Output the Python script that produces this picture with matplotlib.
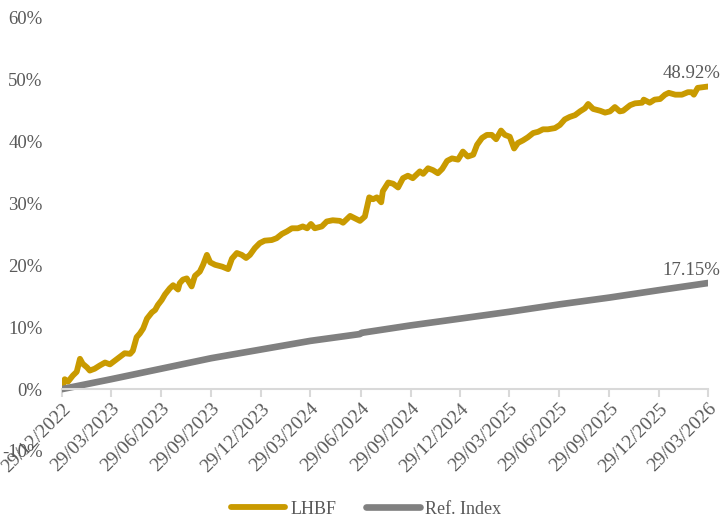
import pandas as pd
import matplotlib.pyplot as plt
import matplotlib.dates as mdates
from matplotlib.ticker import FuncFormatter

plt.rcParams['font.family'] = ['Liberation Serif', 'DejaVu Serif']

# LHBF cumulative performance (%)
lhbf_dates = [
    "2022-12-29", "2023-01-03", "2023-01-09", "2023-01-18", "2023-01-25", "2023-01-31",
    "2023-02-05", "2023-02-13", "2023-02-18", "2023-02-27", "2023-03-08", "2023-03-18",
    "2023-03-27", "2023-04-05", "2023-04-14", "2023-04-23", "2023-05-03", "2023-05-08",
    "2023-05-15", "2023-05-21", "2023-05-27", "2023-06-03", "2023-06-12", "2023-06-18",
    "2023-06-23", "2023-06-30", "2023-07-06", "2023-07-15", "2023-07-21", "2023-07-30",
    "2023-08-02", "2023-08-08", "2023-08-15", "2023-08-24", "2023-08-30", "2023-09-08",
    "2023-09-14", "2023-09-21", "2023-09-27", "2023-10-06", "2023-10-19", "2023-10-30",
    "2023-11-06", "2023-11-15", "2023-11-24", "2023-12-02", "2023-12-09", "2023-12-18",
    "2023-12-27", "2024-01-05", "2024-01-18", "2024-01-27", "2024-02-06", "2024-02-15",
    "2024-02-24", "2024-03-06", "2024-03-15", "2024-03-23", "2024-03-30", "2024-04-06",
    "2024-04-19", "2024-04-28", "2024-05-09", "2024-05-22", "2024-05-28", "2024-06-10",
    "2024-06-19", "2024-06-28", "2024-07-07", "2024-07-15", "2024-07-22", "2024-07-29",
    "2024-08-06", "2024-08-09", "2024-08-19", "2024-08-28", "2024-09-06", "2024-09-15",
    "2024-09-24", "2024-10-03", "2024-10-16", "2024-10-22", "2024-10-31", "2024-11-09",
    "2024-11-18", "2024-11-26", "2024-12-05", "2024-12-14", "2024-12-25", "2025-01-03",
    "2025-01-12", "2025-01-22", "2025-01-29", "2025-02-07", "2025-02-16", "2025-02-25",
    "2025-03-05", "2025-03-14", "2025-03-21", "2025-03-30", "2025-04-07", "2025-04-14",
    "2025-04-23", "2025-05-02", "2025-05-12", "2025-05-21", "2025-05-30", "2025-06-08",
    "2025-06-21", "2025-06-30", "2025-07-09", "2025-07-18", "2025-07-28", "2025-08-06",
    "2025-08-15", "2025-08-21", "2025-08-30", "2025-09-12", "2025-09-21", "2025-09-30",
    "2025-10-09", "2025-10-18", "2025-10-24", "2025-11-06", "2025-11-15", "2025-11-28",
    "2025-12-01", "2025-12-12", "2025-12-21", "2025-12-31", "2026-01-09", "2026-01-16",
    "2026-01-28", "2026-02-09", "2026-02-20", "2026-02-27", "2026-03-03", "2026-03-10",
    "2026-03-19", "2026-03-29",
]
lhbf_values = [
    0.0, 1.6, 1.2, 2.2, 2.8, 4.9,
    4.1, 3.5, 3.0, 3.3, 3.8, 4.3,
    4.0, 4.6, 5.2, 5.8, 5.7, 6.2,
    8.4, 9.0, 9.8, 11.4, 12.4, 12.8,
    13.6, 14.4, 15.3, 16.3, 16.8, 16.1,
    17.1, 17.7, 17.9, 16.6, 18.3, 19.0,
    20.1, 21.7, 20.5, 20.1, 19.8, 19.4,
    21.1, 22.0, 21.7, 21.2, 21.7, 22.8,
    23.6, 24.0, 24.1, 24.4, 25.1, 25.5,
    26.0, 26.0, 26.3, 26.0, 26.7, 26.0,
    26.3, 27.1, 27.3, 27.2, 26.9, 28.0,
    27.6, 27.2, 27.9, 31.0, 30.7, 31.0,
    30.2, 32.0, 33.4, 33.2, 32.6, 34.1,
    34.5, 34.1, 35.2, 34.8, 35.7, 35.4,
    34.9, 35.6, 36.9, 37.3, 37.1, 38.4,
    37.6, 37.9, 39.5, 40.6, 41.1, 41.1,
    40.4, 41.8, 41.1, 40.8, 38.9, 39.8,
    40.2, 40.7, 41.4, 41.6, 42.0, 42.0,
    42.2, 42.7, 43.6, 44.0, 44.3, 44.9,
    45.4, 46.1, 45.3, 45.0, 44.7, 44.9,
    45.6, 44.9, 45.0, 45.9, 46.2, 46.3,
    46.8, 46.3, 46.8, 46.9, 47.6, 47.9,
    47.6, 47.6, 48.0, 48.0, 47.6, 48.7,
    48.8, 48.92,
]

# Reference index (%)
ref_dates = [
    "2022-12-29", "2023-03-29", "2023-06-29", "2023-09-29", "2023-12-29", "2024-03-29",
    "2024-06-28", "2024-07-01", "2024-09-29", "2024-12-29", "2025-03-29", "2025-06-29",
    "2025-09-29", "2025-12-29", "2026-03-29",
]
ref_values = [0.0, 1.6, 3.3, 5.0, 6.4, 7.8, 8.9, 9.1, 10.3, 11.4, 12.5, 13.7, 14.8, 16.0, 17.15]

tick_dates = [
    "2022-12-29", "2023-03-29", "2023-06-29", "2023-09-29", "2023-12-29", "2024-03-29",
    "2024-06-29", "2024-09-29", "2024-12-29", "2025-03-29", "2025-06-29", "2025-09-29",
    "2025-12-29", "2026-03-29",
]

lhbf_x = pd.to_datetime(lhbf_dates)
ref_x = pd.to_datetime(ref_dates)
ticks = pd.to_datetime(tick_dates)

gold = '#C99A00'
grey = '#808080'
txt = '#595959'

fig = plt.figure(figsize=(7.21, 5.21), dpi=100)
ax = fig.add_axes([0.086, 0.1344, 0.896, 0.8311])

ax.plot(lhbf_x, lhbf_values, color=gold, lw=4.2, solid_capstyle='round', label='LHBF')
ax.plot(ref_x, ref_values, color=grey, lw=4.8, solid_capstyle='round', label='Ref. Index')

ax.set_xlim(ticks[0], ticks[-1])
ax.set_ylim(-10, 60)
ax.set_yticks(range(-10, 61, 10))
ax.yaxis.set_major_formatter(FuncFormatter(lambda v, p: f"{v:.0f}%"))
ax.set_xticks(ticks)
ax.xaxis.set_major_formatter(mdates.DateFormatter('%d/%m/%Y'))

for s in ['top', 'right', 'left']:
    ax.spines[s].set_visible(False)
ax.spines['bottom'].set_position(('data', 0))
ax.spines['bottom'].set_color('#D9D9D9')
ax.spines['bottom'].set_linewidth(1.5)
ax.tick_params(axis='x', colors='#D9D9D9', length=6, width=1.5, direction='out',
               labelcolor=txt, labelsize=14, pad=2)
ax.tick_params(axis='y', length=0, labelcolor=txt, labelsize=13.5, pad=14)
for lab in ax.get_xticklabels():
    lab.set_rotation(45)
    lab.set_ha('right')
    lab.set_rotation_mode('anchor')

ax.annotate(f"{lhbf_values[-1]:.2f}%", (lhbf_x[-1], lhbf_values[-1]), xytext=(-12, 3),
            textcoords='offset points', ha='center', va='bottom', color=txt, fontsize=13.5,
            annotation_clip=False)
ax.annotate(f"{ref_values[-1]:.2f}%", (ref_x[-1], ref_values[-1]), xytext=(-12, 3),
            textcoords='offset points', ha='center', va='bottom', color=txt, fontsize=13.5,
            annotation_clip=False)

fig.legend(loc='lower center', bbox_to_anchor=(0.508, -0.025), ncol=2, frameon=False,
           fontsize=13, labelcolor=txt, handlelength=3.0, columnspacing=1.6, handletextpad=0.3)

fig.savefig('out.png', dpi=100)
